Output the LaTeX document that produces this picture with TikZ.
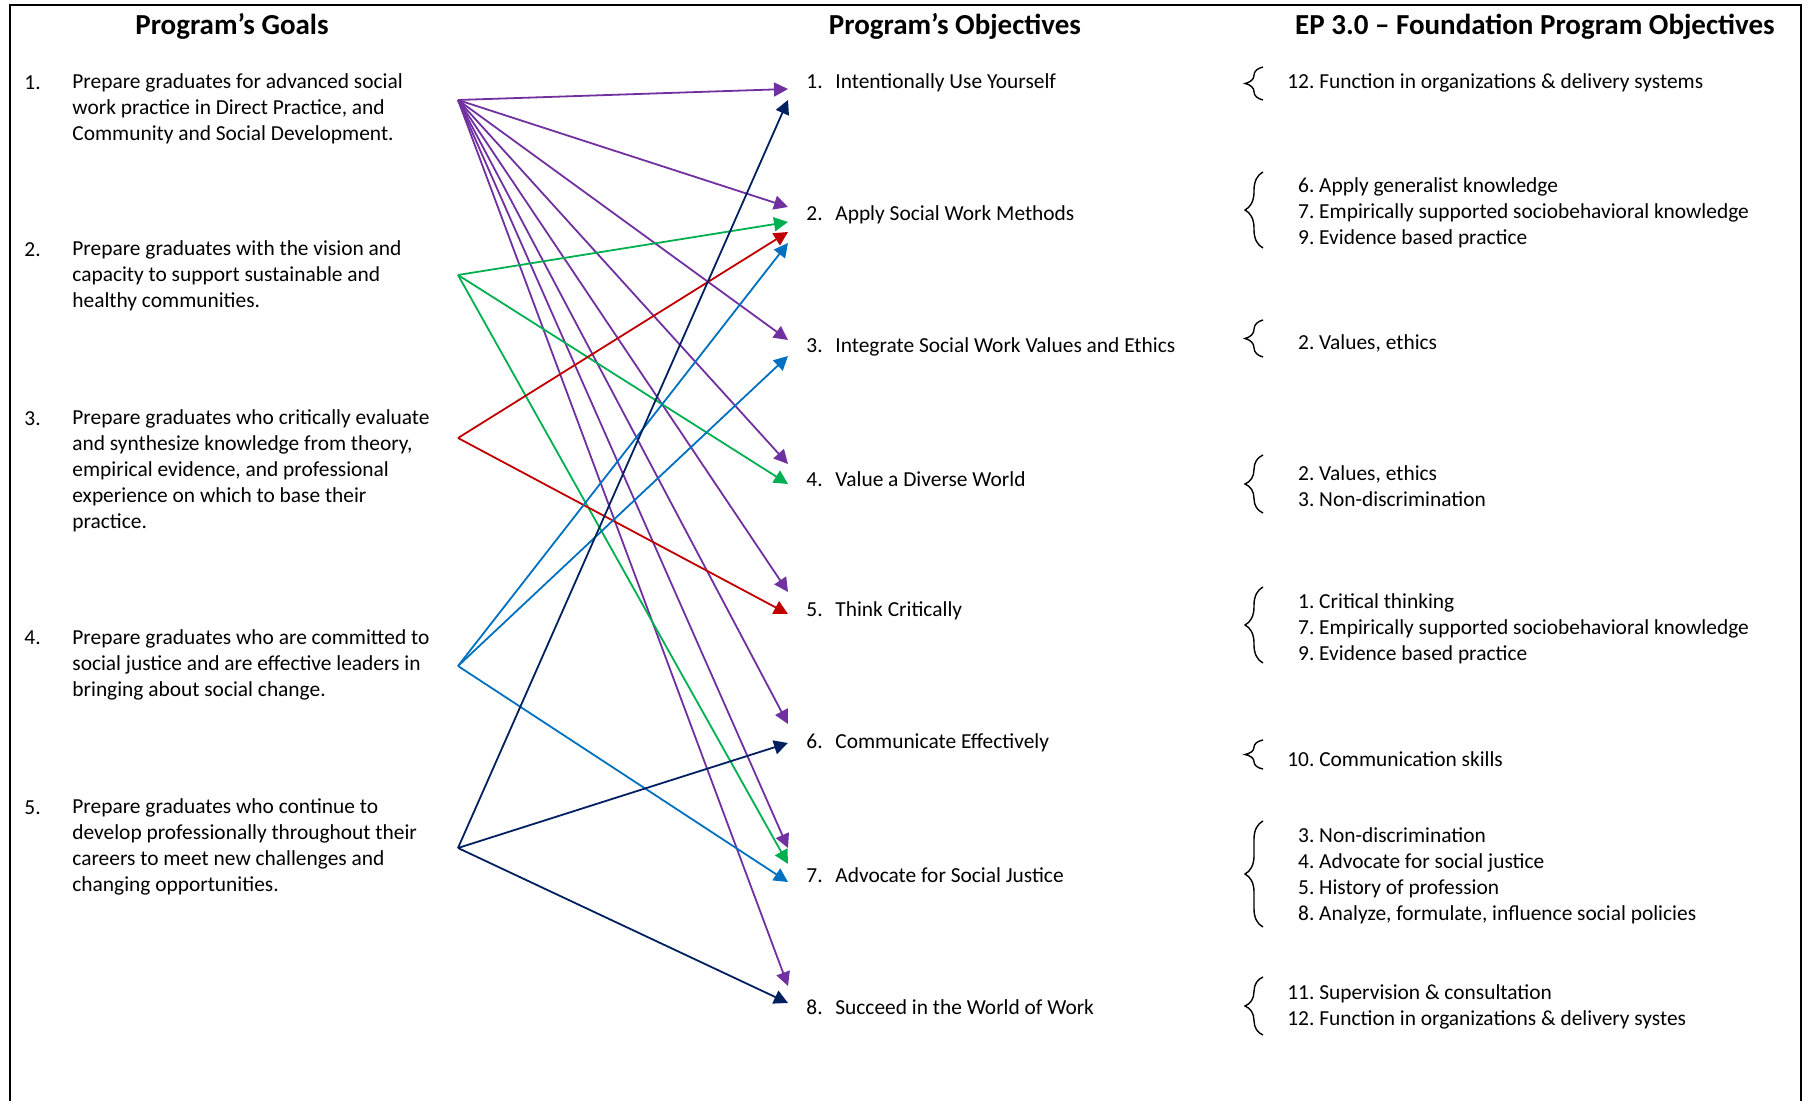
\documentclass[tikz,border=0pt]{standalone}
\usepackage{fontspec}
\setmainfont{Carlito}
\usetikzlibrary{arrows.meta,calc,decorations.pathreplacing}
\definecolor{gpurple}{HTML}{7030A0}
\definecolor{ggreen}{HTML}{00B050}
\definecolor{gred}{HTML}{C00000}
\definecolor{gblue}{HTML}{0070C0}
\definecolor{gnavy}{HTML}{002060}
\newcommand{\epitem}[2]{\makebox[13.5pt][r]{#1.}\ #2}
\tikzset{
	txt/.style={font=\fontsize{10.7}{13}\selectfont, inner sep=0pt, anchor=west, align=left},
	head/.style={font=\fontsize{14.5}{17}\selectfont\bfseries, inner sep=0pt, anchor=base},
	link/.style={line width=0.9pt, -{Triangle[length=7pt,width=7pt]}},
	epbrace/.style={decorate, decoration={brace, amplitude=9pt}, line width=0.7pt}
}
\begin{document}
\begin{tikzpicture}[x=0.5pt, y=-0.5pt]
	\useasboundingbox (0,0) rectangle (1809,1101);
	\draw[line width=1.3pt] (10,1101) -- (10,5) -- (1801,5) -- (1801,1101);
	% headings
	\node[head] (hgoals) at (232,35) {Program’s Goals};
	\node[head] (hobj) at (955,35) {Program’s Objectives};
	\node[head] (hep) at (1535,35) {EP 3.0 – Foundation Program Objectives};
	% goals
	\foreach \i\y in {1/83,2/250,3/419,4/638,5/808}{
		\node[txt] (n\i) at (24,\y) {\i.};
	}
	\node[txt] (g1) at (72,108.5) {Prepare graduates for advanced social\\work practice in Direct Practice, and\\Community and Social Development.};
	\node[txt] (g2) at (72,276) {Prepare graduates with the vision and\\capacity to support sustainable and\\healthy communities.};
	\node[txt] (g3) at (72,471) {Prepare graduates who critically evaluate\\and synthesize knowledge from theory,\\empirical evidence, and professional\\experience on which to base their\\practice.};
	\node[txt] (g4) at (72,664.5) {Prepare graduates who are committed to\\social justice and are effective leaders in\\bringing about social change.};
	\node[txt] (g5) at (72,846.5) {Prepare graduates who continue to\\develop professionally throughout their\\careers to meet new challenges and\\changing opportunities.};
	\foreach \i\y in {1/100,2/275,3/438,4/666,5/848}{
		\coordinate (s\i) at (458,\y);
	}
	% objectives
	\foreach \i\t in {1/Intentionally Use Yourself,2/Apply Social Work Methods,3/Integrate Social Work Values and Ethics,4/Value a Diverse World,5/Think Critically,6/Communicate Effectively,7/Advocate for Social Justice,8/Succeed in the World of Work}{
		\node[txt] (o\i) at (806,{83+132*(\i-1)}) {\makebox[14.5pt][l]{\i.}\t};
	}
	% links
	\foreach \g\o\dy\c in {1/1/6/gpurple,1/2/-8/gpurple,1/3/-7/gpurple,1/4/-15/gpurple,1/5/-19/gpurple,1/6/-19/gpurple,1/7/-27/gpurple,1/8/-21/gpurple,
		2/2/7/ggreen,2/4/5/ggreen,2/7/-11/ggreen,
		3/2/17/gred,3/5/3/gred,
		4/2/28/gblue,4/3/9/gblue,4/7/7/gblue,
		5/1/17/gnavy,5/6/0/gnavy,5/8/-4/gnavy}{
		\draw[link, color=\c] (s\g) -- ($(o\o.west)+(-18,\dy)$);
	}
	% EP 3.0
	\node[txt] (e1) at (1287,83) {\epitem{12}{Function in organizations \& delivery systems}};
	\node[txt] (e2) at (1287,212.5) {\epitem{6}{Apply generalist knowledge}\\\epitem{7}{Empirically supported sociobehavioral knowledge}\\\epitem{9}{Evidence based practice}};
	\node[txt] (e3) at (1287,343) {\epitem{2}{Values, ethics}};
	\node[txt] (e4) at (1287,486) {\epitem{2}{Values, ethics}\\\epitem{3}{Non-discrimination}};
	\node[txt] (e5) at (1287,629) {\epitem{1}{Critical thinking}\\\epitem{7}{Empirically supported sociobehavioral knowledge}\\\epitem{9}{Evidence based practice}};
	\node[txt] (e6) at (1287,759) {\epitem{10}{Communication skills}};
	\node[txt] (e7) at (1287,876) {\epitem{3}{Non-discrimination}\\\epitem{4}{Advocate for social justice}\\\epitem{5}{History of profession}\\\epitem{8}{Analyze, formulate, influence social policies}};
	\node[txt] (e8) at (1287,1007) {\epitem{11}{Supervision \& consultation}\\\epitem{12}{Function in organizations \& delivery systes}};
	\foreach \a\b in {67/100,172/248,320/357,455/513,587/663,740/769,821/927,977/1035}{
		\draw[epbrace] (1263,\b) -- (1263,\a);
	}
\end{tikzpicture}
\end{document}
